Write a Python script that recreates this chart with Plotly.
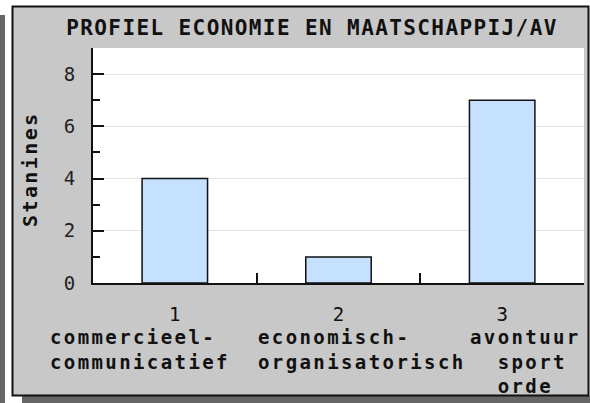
import plotly.graph_objects as go

# ---- data ----
category_numbers = ["1", "2", "3"]
category_names = [
    ["commercieel-", "communicatief"],
    ["economisch-", "organisatorisch"],
    ["avontuur", "\u00a0\u00a0sport", "\u00a0\u00a0orde"],
]
stanines = [4, 1, 7]
title_text = "PROFIEL ECONOMIE EN MAATSCHAPPIJ/AV"
y_title = "Stanines"

# ---- layout geometry (pixels) ----
W, H = 590, 403
PL, PR, PT, PB = 93, 584, 48, 283  # plot area edges
MONO = "DejaVu Sans Mono"
LS = "letter-spacing:2.4px"
name_left_px = [50, 258, 470]  # left edge of each label block


def px(x):
    return (x - PL) / (PR - PL)


def py(y):
    return (PB - y) / (PB - PT)


fig = go.Figure(
    go.Bar(
        x=category_numbers,
        y=stanines,
        width=0.4,
        marker=dict(color="#c6e0ff", line=dict(color="#111111", width=1.5)),
        hoverinfo="skip",
    )
)

shapes = [
    # left dark strip
    dict(type="rect", xref="paper", yref="paper", x0=px(0), x1=px(5), y0=py(15), y1=py(403),
         fillcolor="#666666", line=dict(width=0), layer="below"),
    # bottom shadow
    dict(type="rect", xref="paper", yref="paper", x0=px(22), x1=px(600), y0=py(396), y1=py(403),
         fillcolor="#666666", line=dict(width=0), layer="below"),
    # panel
    dict(type="rect", xref="paper", yref="paper", x0=px(12.5), x1=px(588.5), y0=py(395.5), y1=py(6.5),
         fillcolor="#c8c8c8", line=dict(color="#111111", width=2), layer="below"),
    # plot area
    dict(type="rect", xref="paper", yref="paper", x0=0, x1=1, y0=0, y1=1,
         fillcolor="white", line=dict(width=0), layer="below"),
]

annotations = [
    dict(text=f"<b><span style='{LS}'>{y_title}</span></b>", xref="paper", yref="paper",
         x=px(30), y=py(169), xanchor="center", yanchor="middle", textangle=-90,
         showarrow=False, font=dict(family=MONO, size=20, color="#111111")),
]
for i, lines in enumerate(category_names):
    annotations.append(dict(
        text="<br>".join(f"<b><span style='{LS}'>{l}</span></b>" for l in lines),
        xref="paper", yref="paper", x=px(name_left_px[i] - 2), y=py(324),
        xanchor="left", yanchor="top", align="left", showarrow=False,
        font=dict(family=MONO, size=19, color="#111111"),
    ))

fig.update_layout(
    width=W,
    height=H,
    margin=dict(l=PL, r=W - PR, t=PT, b=H - PB, autoexpand=False),
    paper_bgcolor="white",
    plot_bgcolor="white",
    showlegend=False,
    font=dict(family=MONO, color="#111111"),
    title=dict(
        text=f"<b><span style='letter-spacing:1.4px'>{title_text}</span></b>",
        x=312 / W, xanchor="center", xref="container",
        y=1 - 28 / H, yanchor="middle", yref="container",
        font=dict(family=MONO, size=21, color="#111111"),
    ),
    shapes=shapes,
    annotations=annotations,
    xaxis=dict(
        type="category",
        range=[-0.5, 2.5],
        tickmode="array",
        tickvals=category_numbers,
        ticktext=category_numbers,
        tickangle=0,
        tickson="boundaries",
        ticks="inside",
        ticklen=10,
        tickwidth=2,
        tickcolor="#111111",
        showline=True,
        linewidth=2,
        linecolor="#111111",
        showgrid=False,
        tickfont=dict(family=MONO, size=19, color="#111111"),
        ticklabelstandoff=13,
        automargin=False,
        fixedrange=True,
    ),
    yaxis=dict(
        range=[0, 9],
        dtick=2,
        tick0=0,
        ticks="inside",
        ticklen=11,
        tickwidth=2,
        tickcolor="#111111",
        showline=True,
        linewidth=2,
        linecolor="#111111",
        showgrid=True,
        gridcolor="#e4e4e4",
        gridwidth=1,
        zeroline=False,
        minor=dict(dtick=1, tick0=0, ticks="inside", ticklen=7, tickwidth=2, tickcolor="#111111", showgrid=False),
        tickfont=dict(family=MONO, size=19, color="#222222"),
        ticklabelstandoff=12,
        automargin=False,
        fixedrange=True,
    ),
)

fig.write_html(
    "out.html",
    config=dict(displayModeBar=False),
    post_script="document.body.style.margin='0';document.body.style.overflow='hidden';",
)
